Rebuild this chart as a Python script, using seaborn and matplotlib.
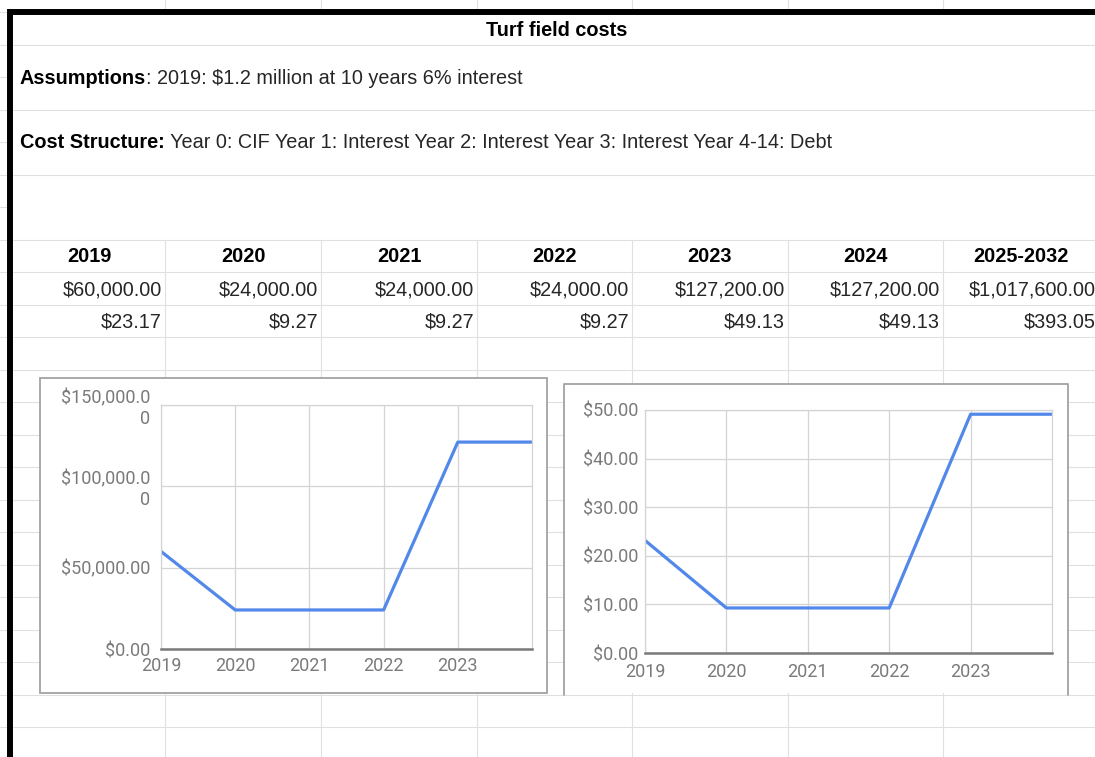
import matplotlib
matplotlib.use("Agg")
import matplotlib.pyplot as plt
from matplotlib.patches import Rectangle
import seaborn as sns
import pandas as pd

# ---------------- data ----------------
title = "Turf field costs"
assump_bold = "Assumptions"
assump_rest = ": 2019: $1.2 million at 10 years 6% interest"
cost_bold = "Cost Structure:"
cost_rest = " Year 0: CIF Year 1: Interest Year 2: Interest Year 3: Interest Year 4-14: Debt"

periods = ["2019", "2020", "2021", "2022", "2023", "2024", "2025-2032"]
total_cost = [60000.00, 24000.00, 24000.00, 24000.00, 127200.00, 127200.00, 1017600.00]
per_unit_cost = [23.17, 9.27, 9.27, 9.27, 49.13, 49.13, 393.05]

chart_years = [2019, 2020, 2021, 2022, 2023, 2024]
chart_xtick_labels = ["2019", "2020", "2021", "2022", "2023"]
chart1_yticks = [0, 50000, 100000, 150000]
chart1_ytick_labels = ["$0.00", "$50,000.00", "$100,000.0\n0", "$150,000.0\n0"]
chart2_yticks = [0, 10, 20, 30, 40, 50]
chart2_ytick_labels = ["$0.00", "$10.00", "$20.00", "$30.00", "$40.00", "$50.00"]

# ---------------- figure ----------------
sns.set_style("white")
plt.rcParams["font.family"] = ["Liberation Sans", "DejaVu Sans"]

W, H = 1095, 757
fig = plt.figure(figsize=(W / 100, H / 100), dpi=100)
fig.patch.set_facecolor("white")
bg = fig.add_axes([0, 0, 1, 1])
bg.set_xlim(0, W)
bg.set_ylim(H, 0)
bg.axis("off")

GRID = "#e0e0e0"
glw = 0.8
rows = [12 + 32.5 * k for k in range(23)]
cols = [165, 321, 477, 632, 788, 943]

for k, y in enumerate(rows):
    bg.plot([0, 8], [y, y], color=GRID, lw=glw, zorder=1)
    if k in (1, 3, 5) or k >= 7:
        bg.plot([13, W], [y, y], color=GRID, lw=glw, zorder=1)
for x in cols:
    bg.plot([x, x], [0, 9], color=GRID, lw=glw, zorder=1)
    bg.plot([x, x], [240, H], color=GRID, lw=glw, zorder=1)

# thick black border
bg.plot([10.3, 10.3], [9, H], color="black", lw=4.3, zorder=5, solid_capstyle="butt")
bg.plot([8, W], [12, 12], color="black", lw=4.3, zorder=5, solid_capstyle="butt")

FS = 14.3
TXT = "#262626"
bg.text(557, 30, title, ha="center", va="center", fontsize=FS, fontweight="bold", color="black")

renderer = fig.canvas.get_renderer()


def rich(x, y, parts):
    for s, w in parts:
        t = bg.text(x, y, s, ha="left", va="center", fontsize=FS, fontweight=w,
                    color="black" if w == "bold" else TXT)
        bb = t.get_window_extent(renderer=renderer)
        x += bb.width


rich(20, 78, [(assump_bold, "bold"), (assump_rest, "normal")])
rich(20, 143, [(cost_bold, "bold"), (cost_rest, "normal")])

edges = [13] + cols + [1099]
for i, p in enumerate(periods):
    cx = (edges[i] + edges[i + 1]) / 2
    bg.text(cx, 257, p, ha="center", va="center", fontsize=FS, fontweight="bold", color="black")
    bg.text(edges[i + 1] - 3, 290, f"${total_cost[i]:,.2f}", ha="right", va="center",
            fontsize=FS, color=TXT)
    bg.text(edges[i + 1] - 3, 322, f"${per_unit_cost[i]:,.2f}", ha="right", va="center",
            fontsize=FS, color=TXT)

# chart boxes
BOX = "#a3a3a3"
bg.add_patch(Rectangle((40, 378), 507, 315, facecolor="white", edgecolor=BOX, lw=1.3, zorder=3))
bg.add_patch(Rectangle((564, 384), 504, 309, facecolor="white", edgecolor="none", zorder=3))
bg.plot([564, 564, 1068, 1068], [695, 384, 384, 695], color=BOX, lw=1.3, zorder=4)


def px_axes(l, r, t, b):
    return fig.add_axes([l / W, 1 - b / H, (r - l) / W, (b - t) / H])


LINE = "#5288ea"
LBL = "#7a7a7a"


def style(ax, yticks, ylabels, ylim, ypad, xpad):
    ax.set_facecolor("none")
    ax.set_xlim(2019, 2024)
    ax.set_ylim(*ylim)
    ax.set_xticks(chart_years[:5])
    ax.set_xticklabels(chart_xtick_labels)
    ax.set_yticks(yticks)
    ax.set_yticklabels(ylabels)
    ax.grid(True, color="#d4d4d4", lw=0.9)
    ax.set_axisbelow(True)
    for s in ("left", "top", "right"):
        ax.spines[s].set_visible(True)
        ax.spines[s].set_color("#d4d4d4")
        ax.spines[s].set_linewidth(0.9)
    ax.spines["bottom"].set_color("#7a7a7a")
    ax.spines["bottom"].set_linewidth(1.8)
    ax.tick_params(axis="both", length=0, labelcolor=LBL, labelsize=13)
    ax.tick_params(axis="y", pad=ypad)
    ax.tick_params(axis="x", pad=xpad)
    for lab in ax.get_xticklabels() + ax.get_yticklabels():
        lab.set_fontfamily(["Roboto", "DejaVu Sans"])
    ax.set_xlabel("")
    ax.set_ylabel("")


df = pd.DataFrame({"year": chart_years, "total": total_cost[:6], "unit": per_unit_cost[:6]})

ax1 = px_axes(161, 532, 405, 649)
sns.lineplot(data=df, x="year", y="total", ax=ax1, color=LINE, lw=2.3)
style(ax1, chart1_yticks, chart1_ytick_labels, (0, 150000), 8, 6)

ax2 = px_axes(645, 1052, 410, 653)
sns.lineplot(data=df, x="year", y="unit", ax=ax2, color=LINE, lw=2.3)
style(ax2, chart2_yticks, chart2_ytick_labels, (0, 50), 5, 7)

fig.savefig("out.png", dpi=100)
